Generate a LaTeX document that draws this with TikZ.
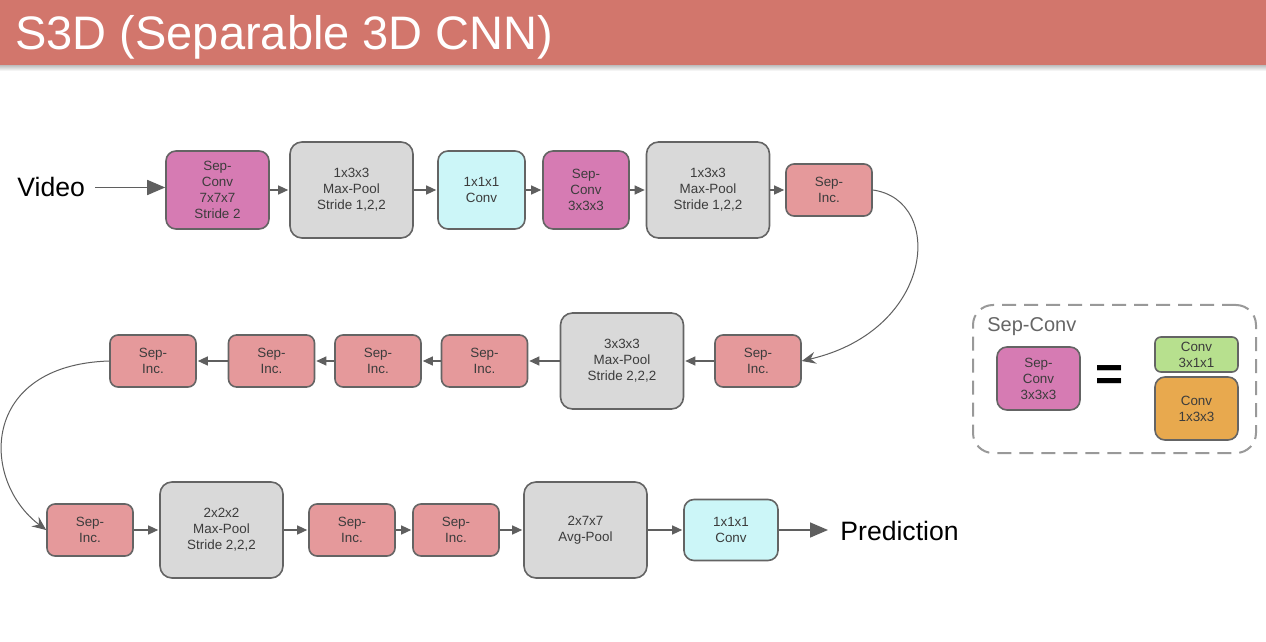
\documentclass[tikz,border=0pt]{standalone}
\usepackage{fontspec}
\setmainfont{Liberation Sans}
\usetikzlibrary{arrows.meta}
\definecolor{titlered}{RGB}{210,118,108}
\definecolor{boxline}{RGB}{100,100,100}
\definecolor{boxtext}{RGB}{60,60,60}
\definecolor{sepconvc}{RGB}{214,123,179}
\definecolor{poolc}{RGB}{217,217,217}
\definecolor{convc}{RGB}{204,246,248}
\definecolor{sepincc}{RGB}{229,153,155}
\definecolor{greenc}{RGB}{183,224,142}
\definecolor{orangec}{RGB}{232,169,78}
\definecolor{linkc}{RGB}{95,95,95}

\begin{document}
\begin{tikzpicture}[x=0.5pt,y=-0.5pt,
  blk/.style={draw=boxline,line width=0.8pt,rounded corners=5pt,align=center,
    font=\fontsize{6.7}{8}\selectfont,text=boxtext,inner sep=0pt},
  sepconv/.style={blk,fill=sepconvc,minimum width=51.5pt,minimum height=39pt},
  pool/.style={blk,fill=poolc,minimum width=61.5pt,minimum height=48pt,rounded corners=6pt},
  conv/.style={blk,fill=convc,minimum width=43.5pt,minimum height=39pt},
  sepinc/.style={blk,fill=sepincc,minimum width=43pt,minimum height=26pt,rounded corners=4pt},
  link/.style={draw=linkc,line width=0.6pt,-{Triangle[length=5pt,width=4.5pt]},shorten >=0.5pt},
  biglink/.style={draw=linkc,line width=0.8pt,-{Triangle[length=9pt,width=7.5pt]}},
  wrap/.style={draw=linkc,line width=0.5pt,-{Stealth[length=7pt,width=6pt,inset=2.5pt]}}]
\useasboundingbox (0,0) rectangle (1266,642);
\fill[white] (0,0) rectangle (1266,642);
\shade[top color=black!30,bottom color=white] (0,64) rectangle (1266,71);
\fill[titlered] (0,0) rectangle (1266,65);
\node[anchor=base west,inner sep=0pt,text=white,font=\fontsize{23.5}{24}\selectfont] (title) at (15,50) {S3D (Separable 3D CNN)};

\node[anchor=base west,inner sep=0pt,font=\fontsize{13.3}{14}\selectfont] (video) at (17,197) {Video};
\node[sepconv] (sc1) at (217.5,190) {Sep-\\Conv\\7x7x7\\Stride 2};
\node[pool] (mp1) at (351.5,190) {1x3x3\\Max-Pool\\Stride 1,2,2};
\node[conv] (cv1) at (481.5,190) {1x1x1\\Conv};
\node[sepconv,minimum width=43pt] (sc2) at (586,190) {Sep-\\Conv\\3x3x3};
\node[pool] (mp2) at (708,190) {1x3x3\\Max-Pool\\Stride 1,2,2};
\node[sepinc] (si1) at (829,190) {Sep-\\Inc.};

\node[sepinc] (si2) at (758,361) {Sep-\\Inc.};
\node[pool] (mp3) at (622,361) {3x3x3\\Max-Pool\\Stride 2,2,2};
\node[sepinc] (si3) at (484.5,361) {Sep-\\Inc.};
\node[sepinc] (si4) at (378,361) {Sep-\\Inc.};
\node[sepinc] (si5) at (271.5,361) {Sep-\\Inc.};
\node[sepinc] (si6) at (153,361) {Sep-\\Inc.};

\node[sepinc] (si7) at (90,530) {Sep-\\Inc.};
\node[pool] (mp4) at (221.5,530) {2x2x2\\Max-Pool\\Stride 2,2,2};
\node[sepinc] (si8) at (352,530) {Sep-\\Inc.};
\node[sepinc] (si9) at (456,530) {Sep-\\Inc.};
\node[pool] (ap) at (585.5,530) {2x7x7\\Avg-Pool};
\node[conv,minimum width=47pt,minimum height=30.5pt] (cv2) at (731,530) {1x1x1\\Conv};
\node[anchor=base west,inner sep=0pt,font=\fontsize{13.3}{14}\selectfont] (pred) at (840,540) {Prediction};

\draw[biglink] (video.east) ++(10,0) coordinate (v0) -- (v0 -| sc1.west);
\draw[link] (sc1) -- (mp1);
\draw[link] (mp1) -- (cv1);
\draw[link] (cv1) -- (sc2);
\draw[link] (sc2) -- (mp2);
\draw[link] (mp2) -- (si1);
\draw[wrap] (si1.east) .. controls (945,200) and (935,330) .. (si2.east);
\draw[link] (si2) -- (mp3);
\draw[link] (mp3) -- (si3);
\draw[link] (si3) -- (si4);
\draw[link] (si4) -- (si5);
\draw[link] (si5) -- (si6);
\draw[wrap] (si6.west) .. controls (-20,365) and (-20,480) .. (si7.west);
\draw[link] (si7) -- (mp4);
\draw[link] (mp4) -- (si8);
\draw[link] (si8) -- (si9);
\draw[link] (si9) -- (ap);
\draw[link] (ap) -- (cv2);
\draw[biglink] (cv2) -- ([xshift=-6pt]pred.west |- cv2);

\node[draw=black!40,line width=1pt,dash pattern=on 7pt off 4pt,rounded corners=10pt,
  minimum width=141.5pt,minimum height=74pt] (legend) at (1114.5,379) {};
\node[anchor=west,inner sep=0pt,text=black!60,font=\fontsize{10}{12}\selectfont] (leglabel) at (987,327) {Sep-Conv};
\node[sepconv,minimum width=41.5pt,minimum height=31.5pt] (lsc) at (1038.5,378.5) {Sep-\\Conv\\3x3x3};
\node[inner sep=0pt,font=\fontsize{24}{24}\selectfont\bfseries] (eq) at (1110,378) {=};
\node[blk,fill=greenc,minimum width=41.5pt,minimum height=17.5pt,rounded corners=3pt] (lg) at (1196.5,354.5) {Conv\\3x1x1};
\node[blk,fill=orangec,minimum width=41.5pt,minimum height=31.5pt] (lo) at (1196.5,408.5) {Conv\\1x3x3};
\end{tikzpicture}
\end{document}
